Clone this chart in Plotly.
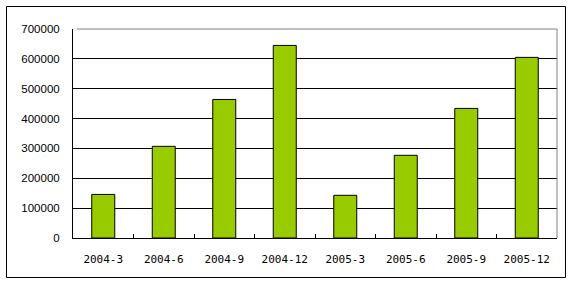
import plotly.graph_objects as go

categories = ["2004-3", "2004-6", "2004-9", "2004-12", "2005-3", "2005-6", "2005-9", "2005-12"]
values = [146000, 307000, 464000, 645000, 143000, 277000, 434000, 605000]
y_ticks = [0, 100000, 200000, 300000, 400000, 500000, 600000, 700000]

W, H = 576, 285
L, R, T, B = 73, 19, 29, 47
pw, ph = W - L - R, H - T - B

fig = go.Figure(go.Bar(
    x=categories, y=values,
    marker=dict(color="#99CC00", line=dict(color="black", width=1)),
    width=0.38,
))

def px_x(p):
    return (p - L) / pw

def px_y(p):
    return (H - B - p) / ph

fig.update_layout(
    width=W, height=H,
    margin=dict(l=L, r=R, t=T, b=B),
    paper_bgcolor="white", plot_bgcolor="white",
    showlegend=False,
    xaxis=dict(
        type="category",
        showline=True, linecolor="black", linewidth=1,
        ticks="inside", tickson="boundaries", ticklen=4, tickcolor="black",
        tickfont=dict(family="DejaVu Sans Mono", size=11, color="black"),
        ticklabelstandoff=11,
        showgrid=False,
    ),
    yaxis=dict(
        range=[0, 700000], tickvals=y_ticks, tickformat="d",
        showline=True, linecolor="black", linewidth=1,
        ticks="inside", ticklen=4, tickcolor="black",
        showgrid=True, gridcolor="black", gridwidth=1,
        tickfont=dict(family="Liberation Sans", size=11.5, color="black"),
        ticklabelstandoff=10,
        zeroline=False,
    ),
    shapes=[
        dict(type="line", xref="paper", yref="paper", x0=px_x(77), x1=1, y0=1, y1=1,
             line=dict(color="#808080", width=1), layer="above"),
        dict(type="line", xref="paper", yref="paper", x0=1, x1=1, y0=0, y1=1,
             line=dict(color="#808080", width=1), layer="above"),
        dict(type="rect", xref="paper", yref="paper",
             x0=px_x(6.5), x1=px_x(565.5), y0=px_y(277.5), y1=px_y(6.5),
             line=dict(color="black", width=1), layer="above"),
    ],
)

fig.write_html("out.html")
